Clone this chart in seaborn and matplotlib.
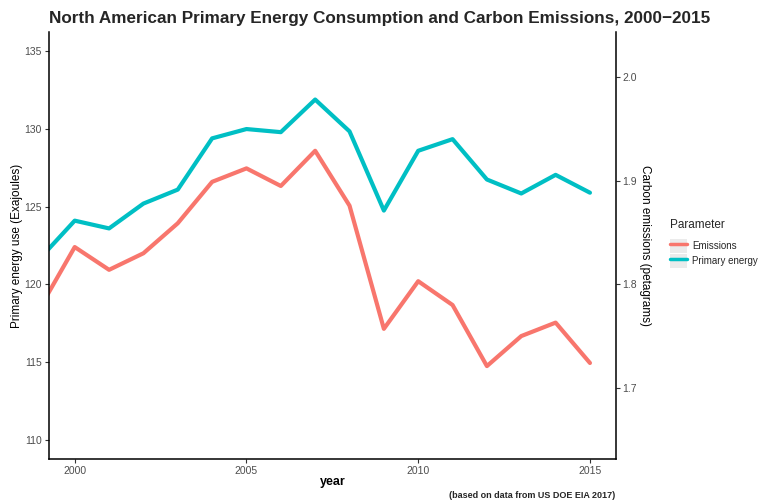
import numpy as np
import pandas as pd
import matplotlib
matplotlib.use("Agg")
import matplotlib.pyplot as plt
from matplotlib.lines import Line2D
from matplotlib.patches import Patch
from matplotlib.legend_handler import HandlerTuple
import seaborn as sns

# data (1999 is clipped by the x limits)
years = list(range(1999, 2016))
energy = [121.7, 124.1, 123.6, 125.2, 126.1, 129.4, 130.0, 129.8, 131.9, 129.85,
          124.75, 128.6, 129.35, 126.75, 125.85, 127.05, 125.9]
emissions = [1.778, 1.836, 1.814, 1.830, 1.859, 1.899, 1.912, 1.895, 1.929, 1.876,
             1.757, 1.803, 1.780, 1.721, 1.750, 1.763, 1.724]
scale = 200 / 3  # petagrams -> exajoule axis

params = ["Emissions", "Primary energy"]
colors = {"Emissions": "#F8766D", "Primary energy": "#00BFC4"}

df = pd.DataFrame({
    "year": years * 2,
    "value": [e * scale for e in emissions] + energy,
    "Parameter": ["Emissions"] * len(years) + ["Primary energy"] * len(years),
})

sns.set_theme(style="white")
plt.rcParams["font.family"] = ["Liberation Sans", "DejaVu Sans"]

fig = plt.figure(figsize=(7.58, 5.04), dpi=100)
ax = fig.add_axes([0.0646, 0.0893, 0.7477, 0.8472])

sns.lineplot(data=df, x="year", y="value", hue="Parameter", palette=colors,
             linewidth=3.0, ax=ax, legend=False)

ax.set_xlim(1999.25, 2015.75)
ax.set_ylim(108.75, 136.25)
ax.set_xticks([2000, 2005, 2010, 2015])
ax.set_yticks([110, 115, 120, 125, 130, 135])

for s in ["top", "right"]:
    ax.spines[s].set_visible(False)
for s in ["left", "bottom"]:
    ax.spines[s].set_color("black")
    ax.spines[s].set_linewidth(1.1)
ax.tick_params(axis="both", direction="out", length=3, width=0.8, colors="#333333",
               labelcolor="#4D4D4D", labelsize=7.5, pad=2, left=True, bottom=True)

ax.set_xlabel("year", fontsize=9, fontweight="bold", color="black", labelpad=0)
ax.set_ylabel("Primary energy use (Exajoules)", fontsize=8.5, color="black", labelpad=1)

sec = ax.secondary_yaxis("right", functions=(lambda v: v / scale, lambda v: v * scale))
sec.set_yticks([1.7, 1.8, 1.9, 2.0])
sec.spines["right"].set_color("black")
sec.spines["right"].set_linewidth(1.1)
sec.tick_params(axis="y", direction="out", length=3, width=0.8, colors="#333333",
                labelcolor="#4D4D4D", labelsize=7.5, pad=2, right=True)
sec.set_ylabel("Carbon emissions (petagrams)", fontsize=8.5, color="black",
               rotation=270, labelpad=1.5, va="bottom")

fig.text(0.0646, 0.964, "North American Primary Energy Consumption and Carbon Emissions, 2000\u22122015",
         fontsize=12.3, fontweight="bold", ha="left", va="center")
fig.text(0.812, 0.016, "(based on data from US DOE EIA 2017)", fontsize=6.5,
         fontweight="bold", ha="right", va="center")

handles = [(Patch(facecolor="#EBEBEB", edgecolor="none"),
            Line2D([], [], color=colors[p], linewidth=2.5)) for p in params]
leg = fig.legend(handles, params, title="Parameter", loc="upper left",
                 bbox_to_anchor=(0.877, 0.575), frameon=False, fontsize=7,
                 title_fontsize=8.5, handlelength=1.8, handleheight=1.8,
                 handletextpad=0.5, labelspacing=0.1, borderpad=0,
                 handler_map={tuple: HandlerTuple(ndivide=1, pad=0)})
leg._legend_box.align = "left"
leg._legend_box.sep = 6

fig.savefig("out.png", dpi=100, facecolor="white")
